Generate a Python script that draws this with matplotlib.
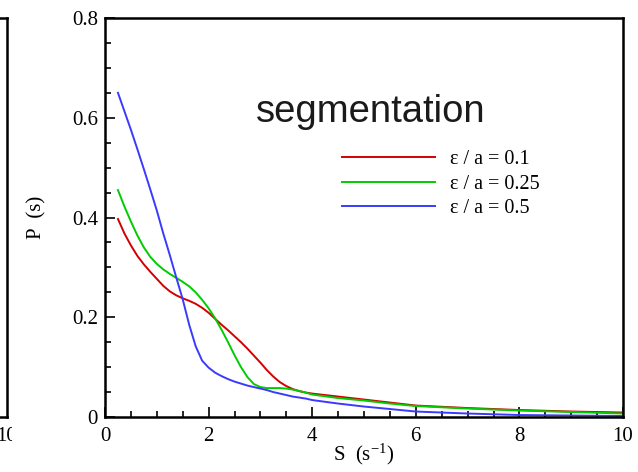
import matplotlib
matplotlib.use('Agg')
import matplotlib.pyplot as plt
from matplotlib.ticker import MultipleLocator
from matplotlib.patches import Rectangle

plt.rcParams['font.family'] = ['Liberation Serif', 'DejaVu Serif']
plt.rcParams['mathtext.fontset'] = 'custom'
plt.rcParams['mathtext.rm'] = 'Liberation Serif'
plt.rcParams['mathtext.default'] = 'regular'
plt.rcParams['axes.unicode_minus'] = False

# S (1/s) and P(s) for the three ratios
s_vals = [0.25, 0.375, 0.5, 0.625, 0.75, 0.875, 1.0, 1.125, 1.25, 1.375,
          1.5, 1.625, 1.75, 1.875, 2.0, 2.125, 2.25, 2.375, 2.5, 2.625,
          2.75, 2.875, 3.0, 3.125, 3.25, 3.375, 3.5, 3.625, 3.75, 3.875,
          4.0, 4.5, 5.0, 5.5, 6.0, 7.0, 8.0, 9.0, 10.0]
p_01 = [0.397, 0.368, 0.344, 0.323, 0.306, 0.291, 0.277, 0.263, 0.252, 0.244,
        0.238, 0.233, 0.227, 0.219, 0.209, 0.197, 0.185, 0.174, 0.162, 0.150,
        0.137, 0.123, 0.109, 0.094, 0.081, 0.070, 0.062, 0.056, 0.052, 0.049,
        0.047, 0.041, 0.035, 0.029, 0.023, 0.018, 0.014, 0.011, 0.009]
p_025 = [0.455, 0.422, 0.392, 0.364, 0.340, 0.321, 0.307, 0.296, 0.287, 0.279,
         0.271, 0.262, 0.250, 0.235, 0.218, 0.198, 0.175, 0.150, 0.124, 0.100,
         0.080, 0.066, 0.060, 0.058, 0.058, 0.058, 0.057, 0.055, 0.052, 0.049,
         0.045, 0.038, 0.033, 0.027, 0.022, 0.017, 0.013, 0.010, 0.007]
p_05 = [0.650, 0.613, 0.576, 0.537, 0.497, 0.456, 0.414, 0.368, 0.325, 0.280,
        0.236, 0.185, 0.142, 0.113, 0.099, 0.089, 0.082, 0.076, 0.071, 0.067,
        0.063, 0.060, 0.057, 0.054, 0.050, 0.047, 0.044, 0.041, 0.039, 0.037,
        0.034, 0.027, 0.021, 0.016, 0.011, 0.007, 0.004, 0.003, 0.002]
labels = ['ε / a = 0.1', 'ε / a = 0.25', 'ε / a = 0.5']
colors = ['#d40000', '#00cc00', '#3a3aff']

fig = plt.figure(figsize=(6.38, 4.72), dpi=100)

# neighbour panel, mostly off the left edge
ax0 = fig.add_axes([-0.789, 0.1165, 0.8, 0.8453])
ax0.set_xlim(0, 10)
ax0.set_ylim(0, 0.8)
ax0.set_xticks([10])
ax0.set_yticks([])
ax0.tick_params(axis='x', direction='in', length=0, labelsize=15, pad=7)
for sp in ax0.spines.values():
    sp.set_linewidth(1.8)

# white strip between the panels
fig.patches.append(Rectangle((12 / 638, 0), 0.15, 1, transform=fig.transFigure,
                             facecolor='white', edgecolor='none', zorder=1))

ax = fig.add_axes([0.1646, 0.1165, 0.8119, 0.8453])
ax.set_zorder(2)
for p, lab, c in zip([p_01, p_025, p_05], labels, colors):
    ax.plot(s_vals, p, color=c, lw=1.4, label=lab)

ax.set_xlim(0, 10)
ax.set_ylim(0, 0.8)
ax.xaxis.set_major_locator(MultipleLocator(2))
ax.xaxis.set_minor_locator(MultipleLocator(0.5))
ax.yaxis.set_major_locator(MultipleLocator(0.2))
ax.yaxis.set_minor_locator(MultipleLocator(0.05))
ax.xaxis.set_major_formatter(lambda v, pos: f'{v:g}')
ax.yaxis.set_major_formatter(lambda v, pos: f'{v:g}')
ax.tick_params(which='both', direction='in', top=False, right=False, width=1.2)
ax.tick_params(which='major', length=7, labelsize=15)
ax.tick_params(axis='x', which='major', pad=7)
ax.tick_params(axis='y', which='major', pad=5)
ax.tick_params(which='minor', length=4.5)
for sp in ax.spines.values():
    sp.set_linewidth(1.8)

ax.set_xlabel('S  (s$^{-1}$)', fontsize=15, labelpad=-3)
ax.set_ylabel('P  (s)', fontsize=15, labelpad=18)

ax.text(0.2915, 0.739, 'segmentation', transform=ax.transAxes,
        family='Liberation Sans', fontsize=27.5, color='#1a1a1a',
        ha='left', va='baseline')

ax.legend(loc='center left', bbox_to_anchor=(0.4575, 0.584), frameon=False,
          fontsize=14.5, handlelength=4.6, handletextpad=0.75,
          labelspacing=0.25, borderpad=0, borderaxespad=0)

plt.savefig('out.png', dpi=100)
plt.close()
